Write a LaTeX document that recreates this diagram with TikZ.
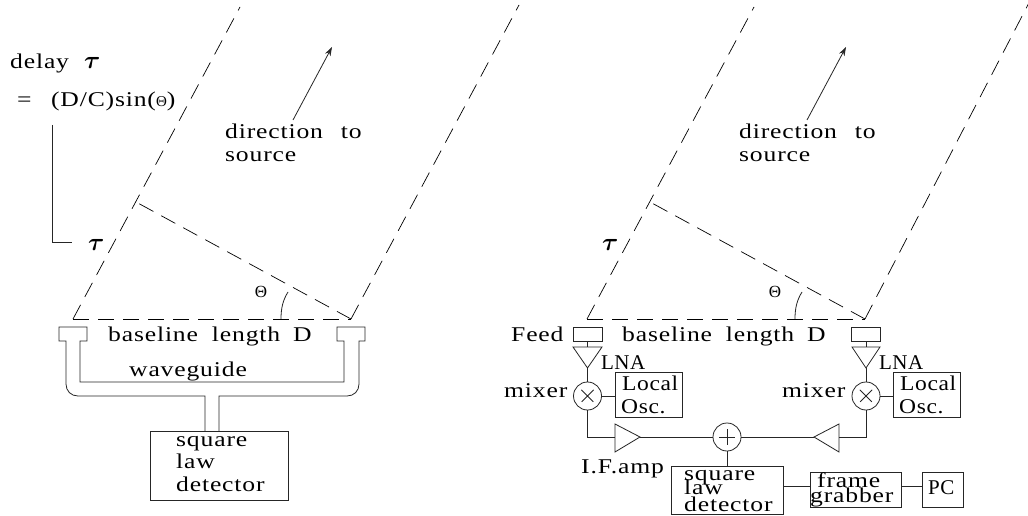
\documentclass[tikz,border=0pt]{standalone}
\usepackage{fontspec}
\setmainfont{Liberation Serif}[FakeStretch=1.22,LetterSpace=4,WordSpace=2.2]
\newfontfamily\thetafont{Liberation Serif}
\newfontfamily\midfont{Liberation Serif}[FakeStretch=1.12,LetterSpace=3]
\newfontfamily\tightfont{Liberation Serif}[FakeStretch=1.0,LetterSpace=2]
\usetikzlibrary{arrows.meta}
\tikzset{
  x=1pt,y=-1pt,
  wire/.style={line width=0.8pt,black!85},
  beam/.style={line width=0.7pt,black,dash pattern=on 16pt off 9pt},
  blockbox/.style={draw,line width=0.8pt,black!85,inner sep=0,minimum width=#1},
  blockbox/.default=30pt,
  roundel/.style={draw,circle,line width=0.8pt,black!85,inner sep=0,minimum size=28pt},
  lbl/.style={anchor=base west,inner sep=0,font=\fontsize{21}{22}\selectfont},
  midlbl/.style={anchor=base west,inner sep=0,font=\fontsize{21}{22}\midfont},
  tightlbl/.style={anchor=base west,inner sep=0,font=\fontsize{21}{22}\tightfont},
  taulbl/.style={anchor=base west,inner sep=0,font=\fontsize{24}{24}\selectfont\boldmath},
  sym/.style={anchor=center,inner sep=0,font=\fontsize{17}{17}\thetafont}
}
\begin{document}
\begin{tikzpicture}
\useasboundingbox (0,0) rectangle (1028,516);
\fill[white] (0,0) rectangle (1028,516);

% ---------- left panel: geometry
\coordinate (la) at (73,319);
\coordinate (lb) at (351,319);
\coordinate (lat) at (240,7);
\coordinate (lbt) at (519,5);
\coordinate (lp) at (136,202);
\draw[beam] (la) -- (lat);
\draw[beam] (la) -- (lb);
\draw[beam] (lb) -- (lp);
\draw[beam] (lb) -- (lbt);
\draw[wire] (281,319) .. controls (281,308) and (283,300) .. (288,292);
\node[sym] (lth) at (261,292) {Θ};
\coordinate (lds) at (293,120);
\coordinate (ldt) at (332,47);
\draw[wire,-{Stealth[length=9pt,width=6pt]}] (lds) -- (ldt);
\node[lbl] (ldir) at (225,139) {direction\kern2pt{} to};
\node[lbl] (lsrc) at (225,161) {source};
\node[lbl] (ldel) at (10,69) {delay};
\node[taulbl] (ltau) at (84,69) {$\tau$};
\node[lbl] (leq) at (17,107) {=\ \,(D/C)sin(\raisebox{0pt}{\fontsize{15}{15}\thetafont Θ})};
\node[taulbl] (ltb) at (88,250) {$\tau$};
\coordinate (lq) at (52,125);
\coordinate (lq2) at (72,242);
\draw[wire] (lq) |- (lq2);

% waveguide
\draw[wire] (205,431) -- (205,396) -- (78,396) .. controls (71,396) and (66,391) .. (66,384) -- (66,341) -- (59,341) -- (59,327) -- (87,327) -- (87,341) -- (80,341) -- (80,382) -- (344,382) -- (344,341) -- (337,341) -- (337,327) -- (365,327) -- (365,341) -- (359,341) -- (359,384) .. controls (359,391) and (354,396) .. (347,396) -- (219,396) -- (219,431);
\node[lbl] (lbase) at (108,341) {baseline\kern-2pt{} length\kern-3pt{} D};
\node[lbl] (lwg) at (129,376) {waveguide};
\node[blockbox=138pt,minimum height=69pt] (ldet) at (219,465.5) {};
\node[lbl] (ls1) at (176,446) {square};
\node[lbl] (ls2) at (176,468) {law};
\node[lbl] (ls3) at (176,491) {detector};

% ---------- right panel: geometry
\coordinate (ra) at (587,319);
\coordinate (rb) at (865,319);
\coordinate (rat) at (754,7);
\coordinate (rbt) at (1033,-5);
\coordinate (rp) at (650,202);
\draw[beam] (ra) -- (rat);
\draw[beam] (ra) -- (rb);
\draw[beam] (rb) -- (rp);
\draw[beam] (rb) -- (rbt);
\draw[wire] (795,319) .. controls (795,308) and (797,300) .. (802,292);
\node[sym] (rth) at (775,292) {Θ};
\coordinate (rds) at (807,120);
\coordinate (rdt) at (846,47);
\draw[wire,-{Stealth[length=9pt,width=6pt]}] (rds) -- (rdt);
\node[lbl] (rdir) at (739,139) {direction\kern2pt{} to};
\node[lbl] (rsrc) at (739,161) {source};
\node[taulbl] (rtb) at (602,250) {$\tau$};
\node[lbl] (rbase) at (622,341) {baseline\kern-2pt{} length\kern-3pt{} D};
\node[lbl] (feed) at (511,341) {Feed};

% left receiver chain
\node[blockbox=29pt,minimum height=14pt] (f1) at (587.5,334) {};
\coordinate (t1a) at (573,347); \coordinate (t1b) at (602,347); \coordinate (t1c) at (587.5,368);
\draw[wire] (t1a) -- (t1b) -- (t1c) -- cycle;
\draw[wire] (f1.south) -- (587.5,347);
\node[roundel] (m1) at (587.5,396) {};
\draw[wire] (t1c) -- (m1.north);
\draw[wire] (m1.45) ++(-4,4) -- ++(-12,12) (m1.135) ++(4,4) -- ++(12,12);
\node[blockbox=67pt,minimum height=45pt] (lo1) at (648.5,394.5) {};
\draw[wire] (m1.east) -- (lo1.west |- m1.east);
\node[tightlbl] (lna1) at (601,369) {LNA};
\node[lbl] (mx1) at (504,397) {mixer};
\node[midlbl] (lo1a) at (622,390) {Local};
\node[midlbl] (lo1b) at (621,413) {Osc.};
\coordinate (a1a) at (615,424); \coordinate (a1b) at (615,452); \coordinate (a1c) at (640,437);
\draw[wire] (a1a) -- (a1b) -- (a1c) -- cycle;
\draw[wire] (m1.south) |- (615,437);
\node[lbl] (ifa) at (581,473) {I.F.amp};

% combiner
\node[roundel] (sum) at (727,437) {};
\draw[wire] (sum.center) ++(-8,0) -- ++(16,0);
\draw[wire] (sum.center) ++(0,-8) -- ++(0,16);
\draw[wire] (a1c) -- (sum.west);

% right receiver chain
\node[blockbox=29pt,minimum height=14pt] (f2) at (866,334) {};
\coordinate (t2a) at (852,347); \coordinate (t2b) at (880,347); \coordinate (t2c) at (866,368);
\draw[wire] (t2a) -- (t2b) -- (t2c) -- cycle;
\draw[wire] (f2.south) -- (866,347);
\node[roundel] (m2) at (866,396) {};
\draw[wire] (t2c) -- (m2.north);
\draw[wire] (m2.45) ++(-4,4) -- ++(-12,12) (m2.135) ++(4,4) -- ++(12,12);
\node[blockbox=67pt,minimum height=45pt] (lo2) at (926.5,394.5) {};
\draw[wire] (m2.east) -- (lo2.west |- m2.east);
\node[tightlbl] (lna2) at (879,369) {LNA};
\node[lbl] (mx2) at (782,397) {mixer};
\node[midlbl] (lo2a) at (900,390) {Local};
\node[midlbl] (lo2b) at (899,413) {Osc.};
\coordinate (a2a) at (839,424); \coordinate (a2b) at (839,452); \coordinate (a2c) at (814,437);
\draw[wire] (a2a) -- (a2b) -- (a2c) -- cycle;
\draw[wire] (m2.south) |- (839,437);
\draw[wire] (a2c) -- (sum.east);

% back end
\node[blockbox=112pt,minimum height=48pt] (det) at (727,490) {};
\draw[wire] (sum.south) -- (det.north);
\node[lbl] (d1) at (684,480) {square};
\node[lbl] (d2) at (684,494) {law};
\node[lbl] (d3) at (684,511) {detector};
\node[blockbox=91pt,minimum height=35pt] (fg) at (855.5,489.5) {};
\node[lbl] (fg1) at (817,487) {frame};
\node[lbl] (fg2) at (810,502) {grabber};
\node[blockbox=41pt,minimum height=35pt] (pc) at (942.5,489.5) {};
\node[tightlbl] (pct) at (928,494) {PC};
\draw[wire] (det.east |- 0,486) -- (fg.west |- 0,486);
\draw[wire] (fg.east |- 0,486) -- (pc.west |- 0,486);
\end{tikzpicture}
\end{document}
